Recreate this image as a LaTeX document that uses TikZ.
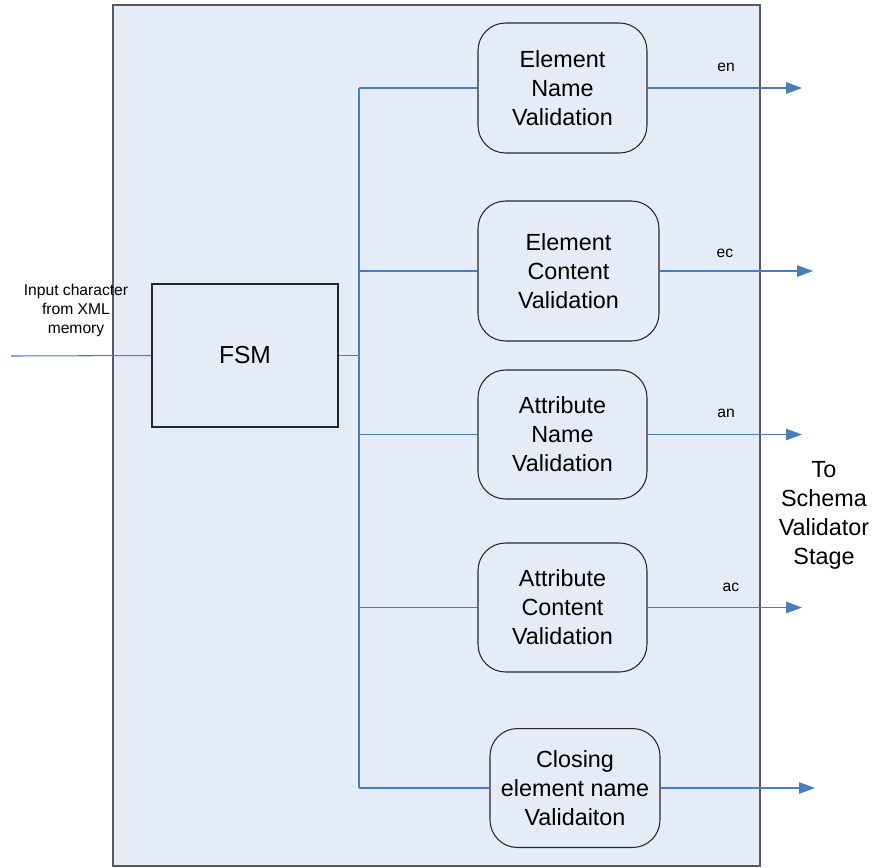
\documentclass[tikz,border=0pt]{standalone}
\usepackage{fontspec}
\setmainfont{Liberation Sans}
\usetikzlibrary{arrows.meta}
\definecolor{panel}{HTML}{E6ECF7}
\definecolor{wire}{HTML}{4A7EBB}
\definecolor{frame}{HTML}{5A5A5A}
\begin{document}
\begin{tikzpicture}[x=0.02cm,y=-0.02cm,
  bigtext/.style={font=\fontsize{13.3}{16.5}\selectfont, align=center},
  smalltext/.style={font=\fontsize{8.9}{10.8}\selectfont, align=center},
  stage/.style={draw=black!85, line width=0.6pt, rounded corners=0.55cm, fill=panel, bigtext, inner sep=0pt},
  wireline/.style={draw=wire, line width=0.6pt},
  outarrow/.style={wireline, -{Triangle[length=0.32cm,width=0.23cm]}, fill=wire}
]
\useasboundingbox (0,0) rectangle (876,867);

% enclosing block
\draw[frame, line width=0.7pt, fill=panel] (113,5) rectangle (760,866);

% finite state machine
\node[draw=black!85, line width=0.6pt, fill=panel, minimum width=3.72cm, minimum height=2.86cm,
      font=\fontsize{14}{17}\selectfont, inner sep=0pt] (fsm) at (245,355.5) {FSM};

% validation units
\node[stage, minimum width=3.38cm, minimum height=2.6cm]  (en) at (562.5,88)   {Element\\Name\\Validation};
\node[stage, minimum width=3.62cm, minimum height=2.8cm]  (ec) at (568.5,271)  {Element\\Content\\Validation};
\node[stage, minimum width=3.38cm, minimum height=2.58cm] (an) at (562.5,434.5) {Attribute\\Name\\Validation};
\node[stage, minimum width=3.38cm, minimum height=2.58cm] (ac) at (562.5,607.5) {Attribute\\Content\\Validation};
\node[stage, minimum width=3.4cm,  minimum height=2.38cm] (cl) at (575,788)   {Closing\\element name\\Validaiton};

% input
\coordinate (src) at (12,356);
\node[smalltext] (inlabel) at (76,310) {Input character\\from XML\\memory};
\draw[wireline] (src) -- (fsm.west);
\fill[wire] (src) circle (0.8);

% distribution bus
\coordinate (bus) at (359,0);
\draw[wireline] (fsm.east) -- (fsm.east -| bus);
\draw[wireline] (en.west -| bus) -- (cl.west -| bus);
\draw[wireline] (en.west -| bus) -- (en.west);
\draw[wireline] (ec.west -| bus) -- (ec.west);
\draw[wireline] (an.west -| bus) -- (an.west);
\draw[wireline] (ac.west -| bus) -- (ac.west);
\draw[wireline] (cl.west -| bus) -- (cl.west);

% outputs
\coordinate (tipA) at (802,0);
\coordinate (tipB) at (813,0);
\coordinate (tipC) at (815,0);
\draw[outarrow] (en.east) -- (en.east -| tipA);
\draw[outarrow] (ec.east) -- (ec.east -| tipB);
\draw[outarrow] (an.east) -- (an.east -| tipA);
\draw[outarrow] (ac.east) -- (ac.east -| tipA);
\draw[outarrow] (cl.east) -- (cl.east -| tipC);

\node[smalltext] (len) at (726,67)  {en};
\node[smalltext] (lec) at (725,253) {ec};
\node[smalltext] (lan) at (726,413) {an};
\node[smalltext] (lac) at (731,587) {ac};

\node[bigtext] (dest) at (824,515) {To\\Schema\\Validator\\Stage};
\end{tikzpicture}
\end{document}
